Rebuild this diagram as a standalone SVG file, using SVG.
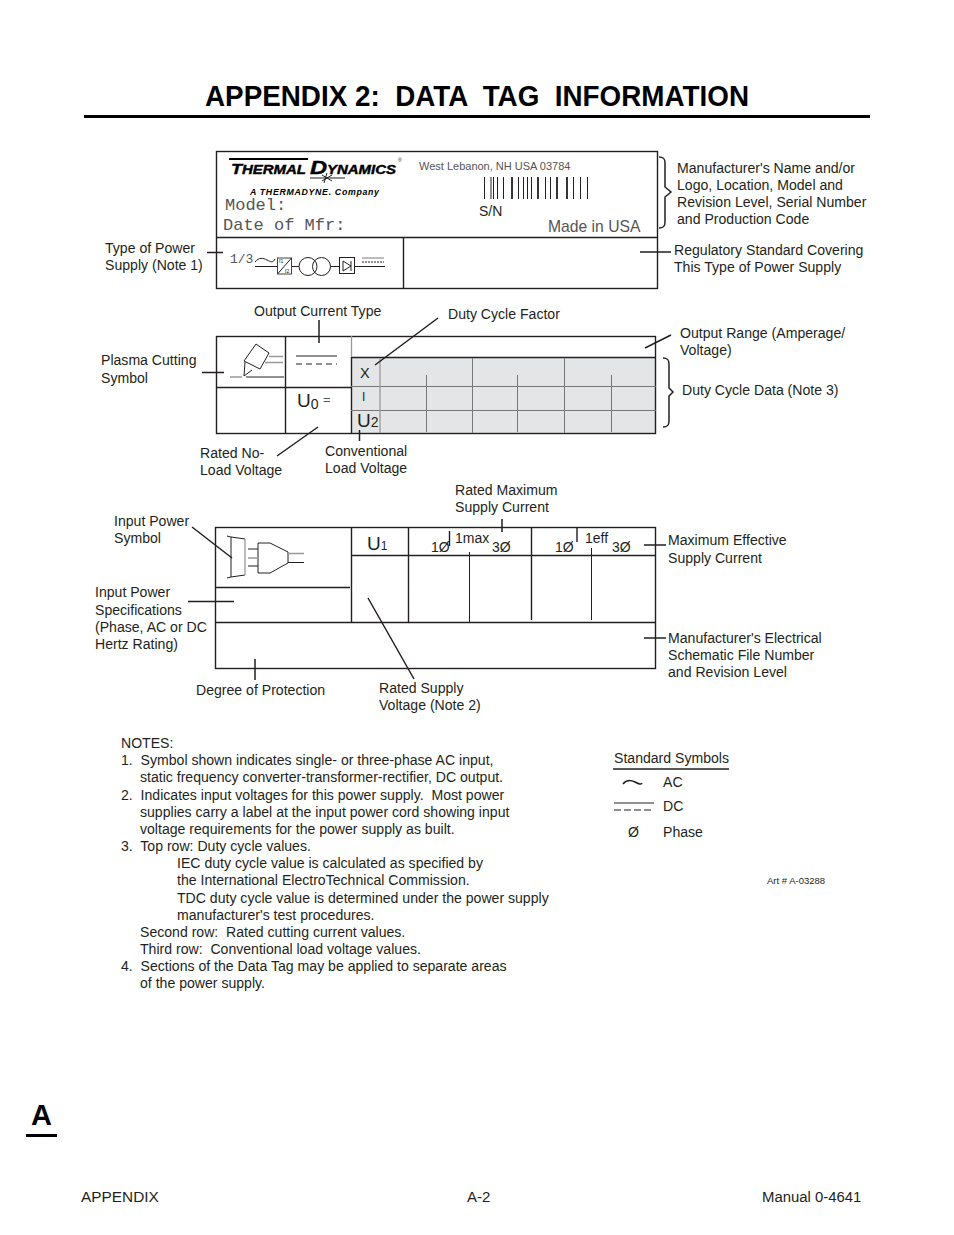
<svg xmlns="http://www.w3.org/2000/svg" width="954" height="1235" viewBox="0 0 954 1235">
<style>
text{font-family:"Liberation Sans",Arial,sans-serif;font-size:14.08px;fill:#231f20;white-space:pre}
.l{stroke:#231f20;stroke-width:1.4;fill:none}
.t{stroke:#231f20;stroke-width:1;fill:none}
.g{stroke:#999;stroke-width:1.3;fill:none}
.c{stroke:#231f20;stroke-width:1.5;fill:none}
.m{font-family:"Liberation Mono",monospace;font-size:17px;fill:#555}
</style>
<rect width="954" height="1235" fill="#fff"/>
<g id="header">
<text x="205" y="106" style="font-size:29px;font-weight:bold;fill:#000" textLength="544" lengthAdjust="spacingAndGlyphs">APPENDIX 2:  DATA  TAG  INFORMATION</text>
<rect x="84" y="115" width="786" height="3" fill="#000"/>
</g>
<g id="tag1">
<rect class="l" x="216.500" y="151.500" width="441" height="137"/>
<path class="l" d="M216 237.500H658M403.500 237V288"/>
<path d="M229 158H308V160H229Z" fill="#000"/>
<text x="231" y="174" style="font-size:14.500px;font-weight:bold;font-style:italic;fill:#000;stroke:#000;stroke-width:.4" textLength="165" lengthAdjust="spacingAndGlyphs">T<tspan style="font-size:12px">HERMAL </tspan><tspan style="font-size:19px">D</tspan><tspan style="font-size:12px">YNAMICS</tspan></text>
<text x="398" y="162" style="font-size:5px">®</text>
<path class="t" d="M310 178H345M327 173L324 183M322 175L332 181M332 175L322 181"/>
<text x="250" y="195" style="font-size:8.800px;font-weight:bold;font-style:italic;fill:#000" textLength="129">A THERMADYNE. Company</text>
<text x="419" y="170" style="font-size:11px;fill:#555">West Lebanon, NH USA 03784</text>
<path stroke="#231f20" fill="none" stroke-width="1" d="M484.500 177V199M491 177V199M493.500 177V199M497.500 177V199M503.500 177V199M518.500 177V199M523.500 177V199M527.500 177V199M531.500 177V199M545.500 177V199M550.500 177V199M573.500 177V199M580.500 177V199M587.500 177V199"/>
<path stroke="#231f20" fill="none" stroke-width="1.800" d="M512 177V199M538 177V199M557 177V199M567 177V199"/>
<text x="479" y="216" style="font-size:14px">S/N</text>
<text class="m" x="225" y="210">Model:</text>
<text class="m" x="223" y="230">Date of Mfr:</text>
<text x="548" y="232" style="font-size:15.700px;fill:#555">Made in USA</text>
<text class="m" x="230" y="263" style="font-size:13px">1/3</text>
<path class="t" d="M255 262C259 257 263 258 267 260S273 263 275 259M255 266.500H277"/>
<rect x="277.500" y="258" width="14" height="16" fill="#fff" stroke="#444"/>
<path class="t" d="M277.500 274L291.500 258"/>
<text x="279" y="263" style="font-size:5px">f1</text>
<text x="285" y="272.500" style="font-size:5px">f2</text>
<path class="t" d="M292 266.500H299"/>
<circle class="t" cx="308" cy="266.500" r="9"/>
<circle class="t" cx="321.500" cy="266.500" r="9"/>
<path class="t" d="M330.500 266.500H339"/>
<rect x="339.500" y="257.500" width="15" height="16" fill="#fff" stroke="#231f20"/>
<path class="t" d="M343 261V271L351 266ZM351 261V271"/>
<path class="g" d="M362 258H384"/>
<path class="t" d="M362 262H384" stroke-dasharray="2 1"/>
<path class="t" d="M355 266.500H385"/>
</g>
<g id="tag2">
<rect x="351" y="357" width="305" height="76" fill="#e4e5e6"/>
<rect class="l" x="216.500" y="336.500" width="439" height="97"/>
<path class="l" d="M285.500 336V433M351.500 357V433M216 387.500H351M351 357.500H656"/>
<path class="g" d="M351.500 336V357"/>
<path d="M351 386.500H656M351 410.500H656" stroke="#777" fill="none"/>
<path class="g" d="M380 358V433"/>
<path stroke="#777" fill="none" d="M472.500 358V433M564.500 358V433M426.500 375V432M517.500 375V432M611.500 375V432"/>
<path class="g" d="M269 356.500H283M265 362.500H283M230 377H242"/>
<path class="t" d="M256 344L269 353L260 369L244 361ZM245 362L244 376L252 370M246 377H284"/>
<path class="t" d="M296 356H337"/>
<path class="t" d="M296 364H337" stroke-dasharray="6 4"/>
<text x="297" y="407" style="font-size:19px">U<tspan style="font-size:14px" dy="2">0</tspan></text>
<text x="323" y="404" style="font-size:13px;fill:#555">=</text>
<text x="360" y="378" style="font-size:14.500px">X</text>
<text x="362" y="401" style="font-size:12px">I</text>
<text x="357" y="427" style="font-size:19px">U<tspan style="font-size:14px">2</tspan></text>
</g>
<g id="tag3">
<rect class="l" x="215.500" y="527.500" width="440" height="141"/>
<path class="l" d="M351.500 527V622M408.500 527V622M215 622.500H656M215 587.500H350M351 555.500H656M531.500 527V620"/>
<path class="t" d="M469.500 552V622M591.500 548V620"/>
<path class="l" d="M449.500 531V546M577 528V542"/>
<path class="t" d="M227 536L231 537L245 539M245 575L231 577L227 578M231 537V577"/>
<path class="g" d="M245 539V575"/>
<path class="t" d="M248 549H258M248 566H258M258 543H270L288 552V563L270 573H258Z"/>
<path class="g" d="M248 558H258M288 553.500H304"/>
<path class="t" d="M288 562.500H304"/>
<text x="367" y="550" style="font-size:19px">U<tspan style="font-size:12px">1</tspan></text>
<text x="431" y="552" style="font-size:14px">1Ø</text>
<text x="455" y="543" style="font-size:14px">1max</text>
<text x="492" y="552" style="font-size:14px">3Ø</text>
<text x="555" y="552" style="font-size:14px">1Ø</text>
<text x="585" y="543" style="font-size:14px">1eff</text>
<text x="612" y="552" style="font-size:14px">3Ø</text>
</g>
<g id="connectors">
<path class="c" d="M207 252.500H223M640 252H671M319 320V343M438 318L375 365M671 335L645 348M202 372.500H224M318 427L277 456M359.500 430V441M502 519V532M192 527L232 558M188 601.500H234M644 545H666M644 638H666M368 598L414 679M255 659V680"/>
<path class="c" d="M659 157C664 157 665 159 665 163V187L671 192L665 197V222C665 226 664 228 659 228"/>
<path class="c" d="M663 358C668 358 669 360 669 364V388L673 392L669 396V421C669 425 668 427 663 427"/>
</g>
<g id="labels">
<text x="677" y="173">Manufacturer's Name and/or</text>
<text x="677" y="190">Logo, Location, Model and</text>
<text x="677" y="207">Revision Level, Serial Number</text>
<text x="677" y="224">and Production Code</text>
<text x="105" y="253">Type of Power</text>
<text x="105" y="270">Supply (Note 1)</text>
<text x="674" y="255">Regulatory Standard Covering</text>
<text x="674" y="272">This Type of Power Supply</text>
<text x="254" y="316">Output Current Type</text>
<text x="448" y="319">Duty Cycle Factor</text>
<text x="680" y="338">Output Range (Amperage/</text>
<text x="680" y="355">Voltage)</text>
<text x="101" y="365">Plasma Cutting</text>
<text x="101" y="383">Symbol</text>
<text x="682" y="395">Duty Cycle Data (Note 3)</text>
<text x="200" y="458">Rated No-</text>
<text x="200" y="475">Load Voltage</text>
<text x="325" y="456">Conventional</text>
<text x="325" y="473">Load Voltage</text>
<text x="455" y="495">Rated Maximum</text>
<text x="455" y="512">Supply Current</text>
<text x="114" y="526">Input Power</text>
<text x="114" y="543">Symbol</text>
<text x="668" y="545">Maximum Effective</text>
<text x="668" y="563">Supply Current</text>
<text x="95" y="597">Input Power</text>
<text x="95" y="615">Specifications</text>
<text x="95" y="632">(Phase, AC or DC</text>
<text x="95" y="649">Hertz Rating)</text>
<text x="668" y="643">Manufacturer's Electrical</text>
<text x="668" y="660">Schematic File Number</text>
<text x="668" y="677">and Revision Level</text>
<text x="196" y="695">Degree of Protection</text>
<text x="379" y="693">Rated Supply</text>
<text x="379" y="710">Voltage (Note 2)</text>
</g>
<g id="notes">
<text x="121" y="748">NOTES:</text>
<text x="121" y="765">1.  Symbol shown indicates single- or three-phase AC input,</text>
<text x="140" y="782">static frequency converter-transformer-rectifier, DC output.</text>
<text x="121" y="800">2.  Indicates input voltages for this power supply.  Most power</text>
<text x="140" y="817">supplies carry a label at the input power cord showing input</text>
<text x="140" y="834">voltage requirements for the power supply as built.</text>
<text x="121" y="851">3.  Top row: Duty cycle values.</text>
<text x="177" y="868">IEC duty cycle value is calculated as specified by</text>
<text x="177" y="885">the International ElectroTechnical Commission.</text>
<text x="177" y="903">TDC duty cycle value is determined under the power supply</text>
<text x="177" y="920">manufacturer's test procedures.</text>
<text x="140" y="937">Second row:  Rated cutting current values.</text>
<text x="140" y="954">Third row:  Conventional load voltage values.</text>
<text x="121" y="971">4.  Sections of the Data Tag may be applied to separate areas</text>
<text x="140" y="988">of the power supply.</text>
</g>
<g id="symbols">
<text x="614" y="763">Standard Symbols</text>
<path class="c" d="M613 769H729"/>
<path class="c" d="M623 784C627 779 631 780 635 782S641 785 642 783"/>
<text x="663" y="787">AC</text>
<path class="t" d="M614 803H654"/>
<path class="t" d="M614 810H654" stroke-dasharray="7 3"/>
<text x="663" y="811">DC</text>
<text x="628" y="837">Ø</text>
<text x="663" y="837">Phase</text>
<text x="767" y="884" style="font-size:9.500px">Art # A-03288</text>
</g>
<g id="footer">
<text x="31" y="1125" style="font-size:29px;font-weight:bold;fill:#000">A</text>
<rect x="26" y="1134" width="31" height="3" fill="#000"/>
<text x="81" y="1202" style="font-size:15.400px">APPENDIX</text>
<text x="467" y="1202" style="font-size:15px">A-2</text>
<text x="762" y="1202" style="font-size:14.900px">Manual 0-4641</text>
</g>
</svg>
